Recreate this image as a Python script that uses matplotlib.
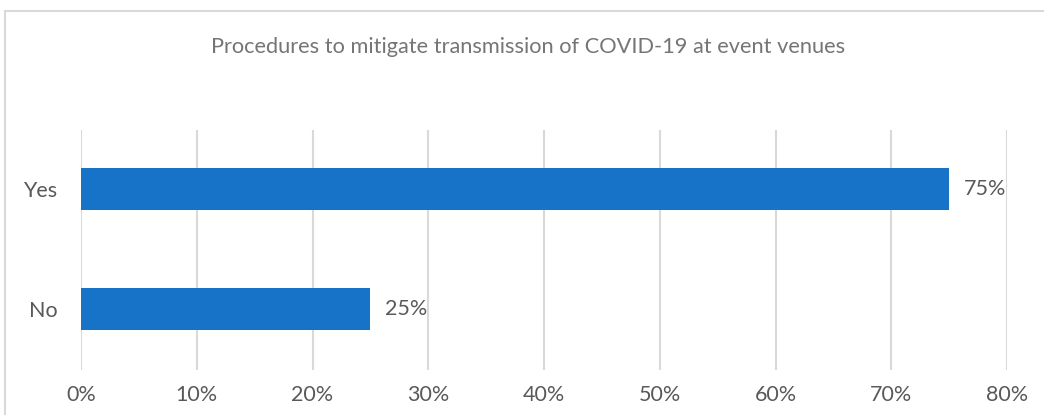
import matplotlib
matplotlib.use("Agg")
import matplotlib.pyplot as plt
from matplotlib.patches import Rectangle

categories = ["No", "Yes"]
values = [25, 75]
xticks = [0, 10, 20, 30, 40, 50, 60, 70, 80]

bar_color = "#1773C8"
text_color = "#595959"
grid_color = "#D9D9D9"

plt.rcParams['font.family'] = ['Lato', 'DejaVu Sans']

fig = plt.figure(figsize=(10.44, 4.15), dpi=100)
ax = fig.add_axes([81 / 1044, 1 - 370 / 415, 926 / 1044, 240 / 415])

# chart frame (left and top edges visible)
fig.patches.append(Rectangle((5 / 1044, -0.1), 1.2, 1 - 11 / 415 + 0.1,
                             transform=fig.transFigure, fill=False,
                             edgecolor="#D9D9D9", linewidth=1.5))

ypos = range(len(categories))
ax.barh(ypos, values, height=0.35, color=bar_color, zorder=3)
for y, v in zip(ypos, values):
    ax.text(v + 1.3, y, f"{v}%", va="center", ha="left",
            fontsize=15.5, color=text_color)

ax.set_xlim(0, 80)
ax.set_ylim(-0.51, 1.49)
ax.set_xticks(xticks)
ax.set_xticklabels([f"{t}%" for t in xticks], fontsize=15.5, color=text_color)
ax.set_yticks(list(ypos))
ax.set_yticklabels(categories, fontsize=15.5, color=text_color)
ax.tick_params(length=0, pad=11)
ax.tick_params(axis="y", pad=17)
ax.grid(axis="x", color=grid_color, linewidth=1.5, zorder=0)
for s in ax.spines.values():
    s.set_visible(False)

fig.text(528 / 1044, 1 - 47 / 415, "Procedures to mitigate transmission of COVID-19 at event venues",
         ha="center", va="center", fontsize=15.7, color="#757575")

fig.savefig("out.png", dpi=100)
